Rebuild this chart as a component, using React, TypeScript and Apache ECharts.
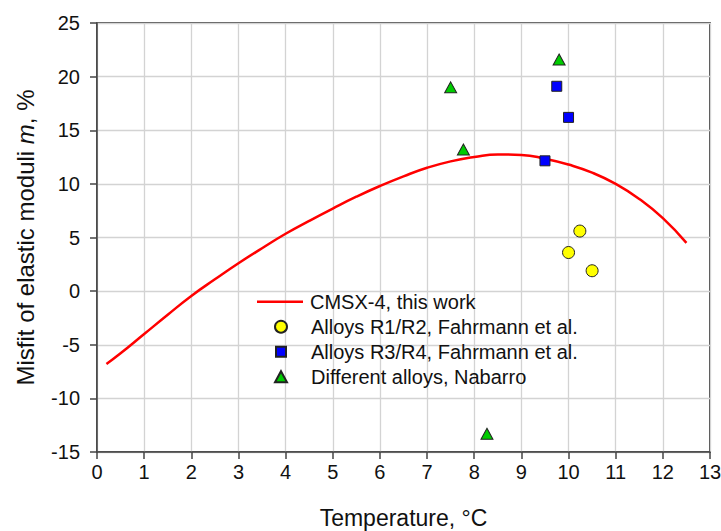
import React, { useEffect, useRef } from "react";
import * as echarts from "echarts";

const curveX = [0.2, 0.5, 1, 1.5, 2, 2.5, 3, 3.5, 4, 4.5, 5, 5.5, 6, 6.5, 7, 7.5, 8, 8.5, 9, 9.5, 10, 10.5, 11, 11.5, 12, 12.5];
const curveY = [-6.8, -5.8, -4.0, -2.2, -0.45, 1.1, 2.6, 4.0, 5.35, 6.55, 7.7, 8.8, 9.8, 10.7, 11.5, 12.1, 12.5, 12.75, 12.7, 12.35, 11.8, 11.05, 10.0, 8.6, 6.8, 4.5];

const r12X = [10.24, 10.0, 10.5];
const r12Y = [5.6, 3.6, 1.9];

const r34X = [9.75, 10.0, 9.5];
const r34Y = [19.1, 16.2, 12.15];

const nabX = [9.8, 7.5, 7.77, 8.27];
const nabY = [21.6, 19.0, 13.2, -13.3];

const xTicks = [0, 1, 2, 3, 4, 5, 6, 7, 8, 9, 10, 11, 12, 13];
const yTicks = [-15, -10, -5, 0, 5, 10, 15, 20, 25];

const seriesNames = [
  "CMSX-4, this work",
  "Alloys R1/R2, Fahrmann et al.",
  "Alloys R3/R4, Fahrmann et al.",
  "Different alloys, Nabarro",
];

const zip = (xs: number[], ys: number[]) => xs.map((x, i) => [x, ys[i]]);

export default function App() {
  const ref = useRef<HTMLDivElement>(null);
  useEffect(() => {
    if (!ref.current) return;
    const chart = echarts.init(ref.current, null, { renderer: "svg" });
    const font = "'Liberation Sans', Arial, sans-serif";
    const legendText = { fontSize: 20, lineHeight: 20, color: "#111", fontFamily: font };
    const rowTop = (i: number) => 291.7 + i * 25;
    chart.setOption({
      animation: false,
      backgroundColor: "#ffffff",
      textStyle: { fontFamily: font },
      grid: {
        left: 97,
        right: 11,
        top: 23,
        bottom: 79,
        containLabel: false,
        outerBoundsMode: "none",
        show: true,
        borderColor: "#111",
        borderWidth: 1.5,
      },
      legend: [
        {
          left: 257,
          top: rowTop(0),
          padding: 0,
          itemWidth: 46,
          itemHeight: 2.5,
          icon: "rect",
          textStyle: { ...legendText, padding: [0, 0, 0, 2] },
          data: [seriesNames[0]],
        },
        {
          left: 274,
          top: rowTop(1),
          padding: 0,
          itemWidth: 12,
          itemHeight: 12,
          icon: "circle",
          textStyle: { ...legendText, padding: [0, 0, 0, 19] },
          data: [seriesNames[1]],
        },
        {
          left: 275,
          top: rowTop(2),
          padding: 0,
          itemWidth: 10,
          itemHeight: 10,
          icon: "rect",
          textStyle: { ...legendText, padding: [0, 0, 0, 20] },
          data: [seriesNames[2]],
        },
        {
          left: 274,
          top: rowTop(3),
          padding: 0,
          itemWidth: 12,
          itemHeight: 11,
          icon: "triangle",
          textStyle: { ...legendText, padding: [0, 0, 0, 19] },
          data: [seriesNames[3]],
        },
      ],
      xAxis: {
        type: "value",
        min: xTicks[0],
        max: xTicks[xTicks.length - 1],
        interval: 1,
        name: "Temperature, °C",
        nameLocation: "middle",
        nameGap: 54,
        nameTextStyle: { fontSize: 23, color: "#111", fontFamily: font },
        axisLine: { onZero: false, lineStyle: { color: "#444", width: 1.5 } },
        axisTick: { show: true, length: 7, inside: false, lineStyle: { color: "#444", width: 1.5 } },
        axisLabel: { fontSize: 20, color: "#111", margin: 10, fontFamily: font },
        splitLine: { show: true, lineStyle: { color: "#d3d3d3", width: 1.3 } },
      },
      yAxis: {
        type: "value",
        min: yTicks[0],
        max: yTicks[yTicks.length - 1],
        interval: 5,
        name: "Misfit of elastic moduli {i|m}, %",
        nameLocation: "middle",
        nameGap: 60,
        nameRotate: 90,
        nameTextStyle: {
          fontSize: 24,
          color: "#111",
          fontFamily: font,
          rich: { i: { fontSize: 24, fontStyle: "italic", color: "#111", fontFamily: font } },
        },
        axisLine: { onZero: false, lineStyle: { color: "#444", width: 1.5 } },
        axisTick: { show: true, length: 7, inside: false, lineStyle: { color: "#444", width: 1.5 } },
        axisLabel: { fontSize: 20, color: "#111", margin: 17, fontFamily: font },
        splitLine: { show: true, lineStyle: { color: "#d3d3d3", width: 1.3 } },
      },
      series: [
        {
          name: seriesNames[0],
          type: "line",
          data: zip(curveX, curveY),
          smooth: 0.5,
          symbol: "none",
          lineStyle: { color: "#ff0000", width: 2.5 },
          itemStyle: { color: "#ff0000" },
          z: 3,
        },
        {
          name: seriesNames[1],
          type: "scatter",
          data: zip(r12X, r12Y),
          symbol: "circle",
          symbolSize: 12,
          itemStyle: { color: "#ffff00", borderColor: "#222", borderWidth: 1, opacity: 1 },
          z: 4,
        },
        {
          name: seriesNames[2],
          type: "scatter",
          data: zip(r34X, r34Y),
          symbol: "rect",
          symbolSize: 10,
          itemStyle: { color: "#0000ff", borderColor: "#222", borderWidth: 1, opacity: 1 },
          z: 4,
        },
        {
          name: seriesNames[3],
          type: "scatter",
          data: zip(nabX, nabY),
          symbol: "triangle",
          symbolSize: [12, 11],
          itemStyle: { color: "#00cc00", borderColor: "#222", borderWidth: 1, opacity: 1 },
          z: 4,
        },
      ],
    });
    return () => chart.dispose();
  }, []);
  return (
    <div
      ref={ref}
      style={{ position: "fixed", left: 0, top: 0, width: 721, height: 531, background: "#fff" }}
    />
  );
}
